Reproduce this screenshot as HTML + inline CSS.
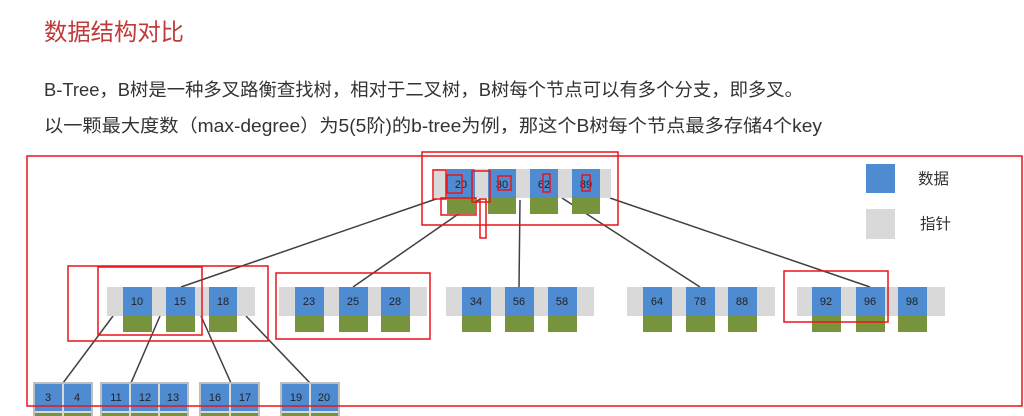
<!DOCTYPE html>
<html><head><meta charset="utf-8"><style>
body{margin:0;background:#fff;width:1024px;height:416px;overflow:hidden}
svg{display:block}
text{font-family:"Liberation Sans","Noto Sans CJK SC",sans-serif}
</style></head><body>
<svg width="1024" height="416" viewBox="0 0 1024 416" xmlns="http://www.w3.org/2000/svg">
<text x="44" y="40" font-size="23.5" fill="#c0393b" textLength="140" lengthAdjust="spacingAndGlyphs">数据结构对比</text>
<text x="44" y="96" font-size="18" fill="#333" textLength="759" lengthAdjust="spacingAndGlyphs">B-Tree，B树是一种多叉路衡查找树，相对于二叉树，B树每个节点可以有多个分支，即多叉。</text>
<text x="44" y="132" font-size="18" fill="#333" textLength="778" lengthAdjust="spacingAndGlyphs">以一颗最大度数（max-degree）为5(5阶)的b-tree为例，那这个B树每个节点最多存储4个key</text>

<g stroke="#404040" stroke-width="1.5" fill="none">
<line x1="436" y1="199" x2="181" y2="287"/>
<line x1="480" y1="199" x2="353" y2="287"/>
<line x1="520" y1="200" x2="519" y2="287"/>
<line x1="562" y1="198" x2="700" y2="287"/>
<line x1="610" y1="198" x2="870" y2="287"/>
<line x1="113" y1="316" x2="63" y2="383"/>
<line x1="160" y1="316" x2="131" y2="383"/>
<line x1="201" y1="316" x2="231" y2="383"/>
<line x1="246" y1="316" x2="310" y2="383"/>
</g>

<g font-size="11" fill="#222" text-anchor="middle">
<rect x="434" y="169" width="177" height="29" fill="#d9d9d9"/>
<rect x="447" y="169" width="28" height="29" fill="#4f8bd0"/><rect x="447" y="198" width="28" height="16" fill="#77933c"/><text x="461" y="188">20</text>
<rect x="488" y="169" width="28" height="29" fill="#4f8bd0"/><rect x="488" y="198" width="28" height="16" fill="#77933c"/><text x="502" y="188">30</text>
<rect x="530" y="169" width="28" height="29" fill="#4f8bd0"/><rect x="530" y="198" width="28" height="16" fill="#77933c"/><text x="544" y="188">62</text>
<rect x="572" y="169" width="28" height="29" fill="#4f8bd0"/><rect x="572" y="198" width="28" height="16" fill="#77933c"/><text x="586" y="188">89</text>

<rect x="107" y="287" width="148" height="29" fill="#d9d9d9"/>
<rect x="279" y="287" width="148" height="29" fill="#d9d9d9"/>
<rect x="446" y="287" width="148" height="29" fill="#d9d9d9"/>
<rect x="627" y="287" width="148" height="29" fill="#d9d9d9"/>
<rect x="797" y="287" width="148" height="29" fill="#d9d9d9"/>
<g>
<rect x="123" y="287" width="29" height="29" fill="#4f8bd0"/><rect x="123" y="316" width="29" height="16" fill="#77933c"/><text x="137" y="305">10</text>
<rect x="166" y="287" width="29" height="29" fill="#4f8bd0"/><rect x="166" y="316" width="29" height="16" fill="#77933c"/><text x="180" y="305">15</text>
<rect x="209" y="287" width="28" height="29" fill="#4f8bd0"/><rect x="209" y="316" width="28" height="16" fill="#77933c"/><text x="223" y="305">18</text>
<rect x="295" y="287" width="29" height="29" fill="#4f8bd0"/><rect x="295" y="316" width="29" height="16" fill="#77933c"/><text x="309" y="305">23</text>
<rect x="339" y="287" width="29" height="29" fill="#4f8bd0"/><rect x="339" y="316" width="29" height="16" fill="#77933c"/><text x="353" y="305">25</text>
<rect x="381" y="287" width="29" height="29" fill="#4f8bd0"/><rect x="381" y="316" width="29" height="16" fill="#77933c"/><text x="395" y="305">28</text>
<rect x="462" y="287" width="29" height="29" fill="#4f8bd0"/><rect x="462" y="316" width="29" height="16" fill="#77933c"/><text x="476" y="305">34</text>
<rect x="505" y="287" width="29" height="29" fill="#4f8bd0"/><rect x="505" y="316" width="29" height="16" fill="#77933c"/><text x="519" y="305">56</text>
<rect x="548" y="287" width="29" height="29" fill="#4f8bd0"/><rect x="548" y="316" width="29" height="16" fill="#77933c"/><text x="562" y="305">58</text>
<rect x="643" y="287" width="29" height="29" fill="#4f8bd0"/><rect x="643" y="316" width="29" height="16" fill="#77933c"/><text x="657" y="305">64</text>
<rect x="686" y="287" width="29" height="29" fill="#4f8bd0"/><rect x="686" y="316" width="29" height="16" fill="#77933c"/><text x="700" y="305">78</text>
<rect x="728" y="287" width="29" height="29" fill="#4f8bd0"/><rect x="728" y="316" width="29" height="16" fill="#77933c"/><text x="742" y="305">88</text>
<rect x="812" y="287" width="29" height="29" fill="#4f8bd0"/><rect x="812" y="316" width="29" height="16" fill="#77933c"/><text x="826" y="305">92</text>
<rect x="856" y="287" width="29" height="29" fill="#4f8bd0"/><rect x="856" y="316" width="29" height="16" fill="#77933c"/><text x="870" y="305">96</text>
<rect x="898" y="287" width="29" height="29" fill="#4f8bd0"/><rect x="898" y="316" width="29" height="16" fill="#77933c"/><text x="912" y="305">98</text>
</g>

<g stroke="#bfbfbf" stroke-width="2">
<rect x="34" y="383" width="58" height="40" fill="#d9d9d9"/>
<rect x="101" y="383" width="87" height="40" fill="#d9d9d9"/>
<rect x="200" y="383" width="59" height="40" fill="#d9d9d9"/>
<rect x="281" y="383" width="58" height="40" fill="#d9d9d9"/>
</g>
<g>
<rect x="35" y="384" width="27" height="27" fill="#4f8bd0"/><rect x="35" y="413" width="27" height="5" fill="#77933c"/><text x="48" y="401">3</text>
<rect x="64" y="384" width="27" height="27" fill="#4f8bd0"/><rect x="64" y="413" width="27" height="5" fill="#77933c"/><text x="77" y="401">4</text>
<rect x="102" y="384" width="27" height="27" fill="#4f8bd0"/><rect x="102" y="413" width="27" height="5" fill="#77933c"/><text x="116" y="401">11</text>
<rect x="131" y="384" width="27" height="27" fill="#4f8bd0"/><rect x="131" y="413" width="27" height="5" fill="#77933c"/><text x="145" y="401">12</text>
<rect x="160" y="384" width="27" height="27" fill="#4f8bd0"/><rect x="160" y="413" width="27" height="5" fill="#77933c"/><text x="173" y="401">13</text>
<rect x="201" y="384" width="28" height="27" fill="#4f8bd0"/><rect x="201" y="413" width="28" height="5" fill="#77933c"/><text x="215" y="401">16</text>
<rect x="231" y="384" width="27" height="27" fill="#4f8bd0"/><rect x="231" y="413" width="27" height="5" fill="#77933c"/><text x="245" y="401">17</text>
<rect x="282" y="384" width="27" height="27" fill="#4f8bd0"/><rect x="282" y="413" width="27" height="5" fill="#77933c"/><text x="296" y="401">19</text>
<rect x="311" y="384" width="27" height="27" fill="#4f8bd0"/><rect x="311" y="413" width="27" height="5" fill="#77933c"/><text x="324" y="401">20</text>
</g>
</g>

<rect x="866" y="164" width="29" height="29" fill="#4f8bd0"/>
<text x="918" y="184" font-size="15.5" fill="#333">数据</text>
<rect x="866" y="209" width="29" height="30" fill="#d9d9d9"/>
<text x="920" y="229" font-size="15.5" fill="#333">指针</text>

<g fill="none" stroke="#e8141c" stroke-width="1.5">
<rect x="27" y="156" width="995" height="250"/>
<rect x="422" y="152" width="196" height="73"/>
<rect x="433" y="170" width="13" height="29"/>
<rect x="447" y="175" width="15" height="18"/>
<rect x="441" y="198" width="35" height="17"/>
<rect x="472" y="171" width="18" height="31"/>
<rect x="480" y="199" width="6" height="39"/>
<rect x="498" y="176" width="13" height="14"/>
<rect x="543" y="174" width="7" height="18"/>
<rect x="582" y="175" width="8" height="16"/>
<rect x="68" y="266" width="200" height="75"/>
<rect x="98" y="267" width="104" height="68"/>
<rect x="276" y="273" width="154" height="66"/>
<rect x="784" y="271" width="104" height="51"/>
</g>
</svg>
</body></html>
